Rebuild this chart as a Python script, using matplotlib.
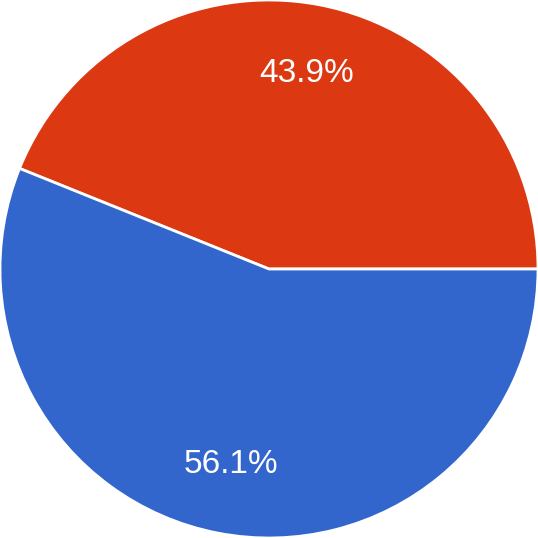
import matplotlib.pyplot as plt

labels = ["Red", "Blue"]
values = [43.9, 56.1]
colors = ["#DC3912", "#3366CC"]

fig = plt.figure(figsize=(5.38, 5.38), dpi=100)
ax = fig.add_axes([0, 0, 1, 1])

wedges, texts, autotexts = ax.pie(
    values,
    colors=colors,
    startangle=0,
    counterclock=True,
    autopct="%.1f%%",
    pctdistance=0.74,
    radius=1.0,
    wedgeprops=dict(edgecolor="white", linewidth=2),
    textprops=dict(color="white", fontsize=24, family="Liberation Sans"),
)

ax.set_xlim(-1.0, 1.0)
ax.set_ylim(-1.0, 1.0)
ax.set_aspect("equal")
ax.axis("off")

fig.savefig("out.png", dpi=100)
